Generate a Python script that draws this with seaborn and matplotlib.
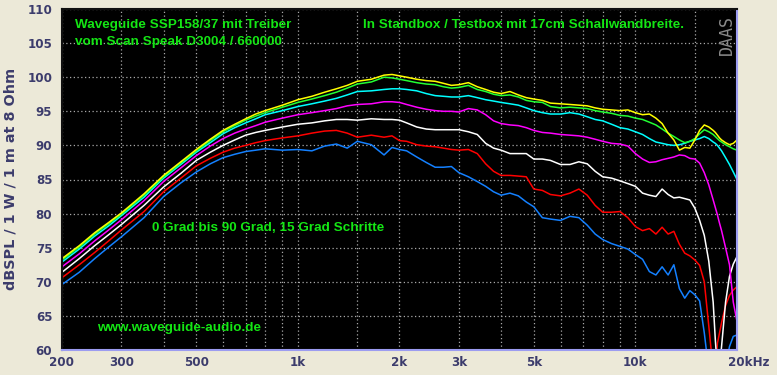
import numpy as np
import pandas as pd
import matplotlib
matplotlib.use("Agg")
import matplotlib.pyplot as plt
import matplotlib.transforms as mtransforms
import seaborn as sns

# ---------------- data ----------------
freq = [200, 225, 250, 275, 300, 350, 400, 450, 500, 550, 600, 650, 700, 750, 800, 900,
        1000, 1100, 1200, 1300, 1400, 1500, 1650, 1800, 1900, 2000, 2100, 2250, 2400, 2550,
        2700, 2850, 3000, 3200, 3400, 3600, 3800, 4000, 4250, 4500, 4750, 5000, 5300, 5600,
        6000, 6400, 6800, 7200, 7600, 8000, 8500, 9000, 9500, 10000, 10500, 11000, 11500,
        12000, 12500, 13000, 13500, 14000, 14500, 15000, 15500, 16000, 16500, 17000, 17250,
        17500, 17750, 18000, 18500, 19000, 19500, 20000]

deg0 = [73.4, 75.3, 77.2, 78.7, 80.1, 82.9, 85.6, 87.6, 89.4, 90.9, 92.2, 93.1, 93.9, 94.6, 95.1, 95.9,
        96.7, 97.2, 97.8, 98.3, 98.8, 99.4, 99.7, 100.3, 100.4, 100.2, 100.0, 99.7, 99.5, 99.4,
        99.1, 98.8, 98.9, 99.2, 98.6, 98.2, 97.8, 97.6, 97.9, 97.4, 97.0, 96.8, 96.6, 96.2,
        96.1, 96.0, 95.9, 95.8, 95.5, 95.3, 95.2, 95.1, 95.2, 94.8, 94.5, 94.6, 94.0,
        93.2, 91.8, 90.8, 89.3, 89.7, 89.6, 90.8, 92.2, 93.0, 92.7, 92.2, 91.9,
        91.5, 91.1, 90.8, 90.4, 90.1, 90.3, 90.8]
deg15 = [73.2, 75.1, 77.0, 78.5, 79.9, 82.7, 85.4, 87.4, 89.2, 90.7, 92.0, 92.9, 93.7, 94.3, 94.8, 95.6,
         96.3, 96.8, 97.3, 97.8, 98.4, 99.0, 99.3, 100.0, 99.9, 99.7, 99.5, 99.2, 99.0, 98.9,
         98.6, 98.4, 98.5, 98.8, 98.2, 97.9, 97.5, 97.3, 97.4, 97.1, 96.6, 96.4, 96.3, 95.7,
         95.5, 95.6, 95.5, 95.4, 95.1, 94.9, 94.7, 94.4, 94.3, 94.0, 93.8, 93.4, 93.0,
         92.4, 91.8, 91.3, 90.8, 90.4, 90.6, 91.0, 91.7, 92.3, 92.0, 91.6, 91.3,
         91.0, 90.7, 90.5, 90.1, 89.8, 89.5, 89.3]
deg30 = [72.9, 74.8, 76.7, 78.2, 79.7, 82.4, 85.2, 87.2, 89.0, 90.4, 91.7, 92.6, 93.3, 93.9, 94.5, 95.1,
         95.7, 96.1, 96.5, 96.9, 97.4, 97.9, 98.0, 98.2, 98.3, 98.3, 98.2, 98.0, 97.6, 97.3,
         97.2, 97.1, 97.1, 97.3, 97.0, 96.7, 96.5, 96.3, 96.1, 95.9, 95.5, 95.1, 94.8, 94.6,
         94.6, 94.8, 94.6, 94.2, 93.8, 93.6, 93.1, 92.6, 92.4, 92.0, 91.6, 91.0, 90.5,
         90.3, 90.1, 90.0, 90.1, 90.3, 90.6, 90.8, 91.0, 91.3, 91.0, 90.5, 90.3,
         90.0, 89.6, 89.2, 88.2, 87.2, 86.1, 85.0]
deg45 = [72.2, 74.1, 76.0, 77.6, 79.1, 81.9, 84.7, 86.7, 88.5, 89.9, 91.0, 91.8, 92.4, 92.9, 93.4, 94.0,
         94.5, 94.8, 95.1, 95.4, 95.8, 96.0, 96.1, 96.4, 96.4, 96.3, 96.0, 95.6, 95.3, 95.1,
         95.0, 95.0, 94.9, 95.4, 95.2, 94.5, 93.6, 93.2, 93.0, 92.9, 92.6, 92.2, 91.9, 91.8,
         91.6, 91.5, 91.4, 91.2, 90.9, 90.6, 90.3, 90.2, 89.9, 88.8, 88.0, 87.5, 87.6,
         87.9, 88.1, 88.3, 88.6, 88.5, 88.1, 88.0, 87.4, 86.0, 84.2, 82.0, 80.9,
         79.8, 78.6, 77.5, 75.0, 72.5, 67.0, 64.2]
deg60 = [71.4, 73.4, 75.3, 76.9, 78.4, 81.2, 83.9, 85.9, 87.8, 89.0, 90.0, 90.8, 91.5, 91.9, 92.2, 92.7,
         93.1, 93.3, 93.6, 93.8, 93.8, 93.7, 93.9, 93.8, 93.8, 93.7, 93.3, 92.7, 92.4, 92.3,
         92.3, 92.3, 92.3, 92.0, 91.6, 90.3, 89.6, 89.3, 88.8, 88.8, 88.8, 88.0, 88.0, 87.8,
         87.2, 87.2, 87.6, 87.3, 86.2, 85.4, 85.2, 84.8, 84.4, 84.0, 83.0, 82.7, 82.5,
         83.6, 82.8, 82.3, 82.4, 82.2, 82.0, 80.8, 79.0, 76.8, 73.0, 67.0, 61.5,
         57.0, 57.0, 60.5, 67.0, 70.8, 72.6, 73.7]
deg75 = [70.6, 72.5, 74.3, 76.0, 77.6, 80.3, 83.2, 85.2, 87.0, 88.1, 89.0, 89.6, 90.0, 90.4, 90.7, 91.1,
         91.4, 91.8, 92.1, 92.2, 91.8, 91.2, 91.5, 91.2, 91.4, 90.7, 90.6, 90.1, 89.9, 89.8,
         89.6, 89.4, 89.3, 89.4, 88.8, 87.3, 86.2, 85.6, 85.6, 85.5, 85.4, 83.6, 83.4, 82.8,
         82.6, 83.0, 83.6, 82.7, 81.2, 80.2, 80.2, 80.3, 79.4, 78.1, 77.5, 77.8, 77.0,
         78.0, 77.0, 77.4, 75.5, 74.2, 73.8, 73.2, 72.4, 70.0, 63.5, 57.0, 57.0,
         61.0, 62.5, 64.0, 66.5, 68.0, 68.8, 69.3]
deg90 = [69.6, 71.4, 73.4, 75.1, 76.6, 79.4, 82.5, 84.5, 86.1, 87.3, 88.2, 88.7, 89.1, 89.3, 89.5, 89.3,
         89.4, 89.2, 89.9, 90.2, 89.6, 90.6, 90.1, 88.6, 89.7, 89.4, 89.2, 88.3, 87.5, 86.8,
         86.8, 86.9, 86.0, 85.4, 84.7, 84.0, 83.2, 82.7, 83.0, 82.6, 81.7, 81.0, 79.4, 79.2,
         79.0, 79.6, 79.4, 78.3, 77.0, 76.2, 75.6, 75.2, 74.8, 74.0, 73.3, 71.5, 71.0,
         72.2, 71.0, 72.5, 69.0, 67.6, 68.7, 68.1, 67.2, 62.5, 57.0, 57.0, 57.0,
         57.0, 57.0, 57.0, 57.5, 60.5, 62.0, 62.2]

series_names = ["0 Grad", "15 Grad", "30 Grad", "45 Grad", "60 Grad", "75 Grad", "90 Grad"]
series_values = [deg0, deg15, deg30, deg45, deg60, deg75, deg90]
series_colors = ["#FFFF00", "#22FF33", "#00FFFF", "#FF00FF", "#FFFFFF", "#FF0000", "#1480FF"]

xtick_vals = [200, 300, 500, 1000, 2000, 3000, 5000, 10000, 20000]
xtick_labels = ["200", "300", "500", "1k", "2k", "3k", "5k", "10k", "20kHz"]
xgrid_minor = [400, 600, 700, 800, 900, 1500, 4000, 6000, 7000, 8000, 9000, 15000]
ytick_vals = [60, 65, 70, 75, 80, 85, 90, 95, 100, 105, 110]

# ---------------- figure ----------------
sns.set_theme(style="dark")
bg = "#ECE9D8"
lab_col = "#3C3C6C"
txt_green = "#14E614"

fig = plt.figure(figsize=(7.77, 3.75), dpi=100, facecolor=bg)
ax = fig.add_axes([62/777, 1-350/375, (737-62)/777, (350-9)/375])
ax.set_facecolor("black")
ax.set_axisbelow(True)

rows = []
for name, vals in zip(series_names, series_values):
    for f, v in zip(freq, vals):
        rows.append((name, f, v))
df = pd.DataFrame(rows, columns=["angle", "freq", "spl"])

sns.lineplot(data=df, x="freq", y="spl", hue="angle",
             hue_order=series_names[::-1], palette=series_colors[::-1],
             estimator=None, sort=False, lw=1.1, legend=False, ax=ax)

ax.set_xscale("log")
ax.set_xlim(200, 20000)
ax.set_ylim(60, 110)
ax.set_xticks(xtick_vals)
ax.set_xticklabels(xtick_labels)
ax.set_xticks(xgrid_minor, minor=True)
ax.set_xticklabels([], minor=True)
ax.set_yticks(ytick_vals)
ax.set_yticklabels([str(v) for v in ytick_vals])
ax.grid(True, which="both", color="#A8A8A8", linestyle=(0, (1, 2)), linewidth=0.9)
ax.tick_params(which="both", length=0)
ax.tick_params(axis="x", pad=4, labelsize=8.6, labelcolor=lab_col)
ax.tick_params(axis="y", pad=7, labelsize=8.6, labelcolor=lab_col)
for lab in ax.get_xticklabels() + ax.get_yticklabels():
    lab.set_fontweight("bold")
    lab.set_fontfamily("DejaVu Sans")
last = ax.get_xticklabels()[-1]
last.set_horizontalalignment("left")
last.set_transform(last.get_transform() + mtransforms.ScaledTranslation(-9/100, 0, fig.dpi_scale_trans))

ax.set_xlabel("")
ax.set_ylabel("")
for s in ["top", "left"]:
    ax.spines[s].set_color("#101010")
    ax.spines[s].set_linewidth(1.5)
for s in ["bottom", "right"]:
    ax.spines[s].set_color("#9C9CF0")
    ax.spines[s].set_linewidth(1.5)

fig.text(11/777, 1-179/375, "dBSPL / 1 W / 1 m at 8 Ohm", rotation=90, ha="center", va="center",
         fontsize=10.4, fontweight="bold", color=lab_col, family="DejaVu Sans")

tk = dict(color=txt_green, fontweight="bold", family="Liberation Sans", fontsize=9.7,
          transform=fig.transFigure, va="center", ha="left")
fig.text(75/777, 1-25/375, "Waveguide SSP158/37 mit Treiber", **tk)
fig.text(75/777, 1-42/375, "vom Scan Speak D3004 / 660000", **tk)
fig.text(363/777, 1-25/375, "In Standbox / Testbox mit 17cm Schallwandbreite.", **tk)
fig.text(152/777, 1-228/375, "0 Grad bis 90 Grad, 15 Grad Schritte", **tk)
fig.text(97/777, 1-328/375, "www.waveguide-audio.de", **tk)
fig.text(727/777, 1-35/375, "DAAS", rotation=90, ha="center", va="center", fontsize=12,
         color="#8A8A8A", family="DejaVu Sans Mono", fontweight="light")

fig.savefig("out.png", dpi=100, facecolor=bg)
